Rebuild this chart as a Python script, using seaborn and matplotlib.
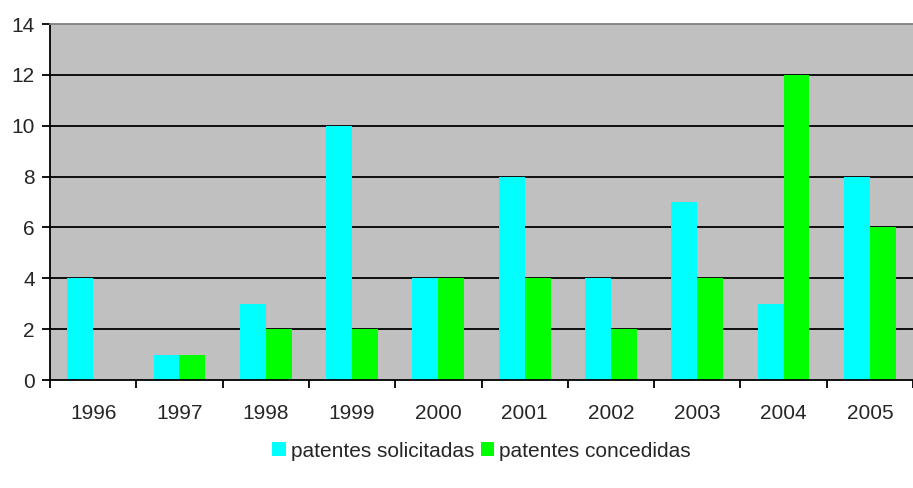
"""
Patentes solicitadas vs concedidas, 1996-2005
"""

import pandas as pd
import matplotlib
matplotlib.use("Agg")
import matplotlib.pyplot as plt
import seaborn as sns
from matplotlib.ticker import FixedLocator

years = ['1996', '1997', '1998', '1999', '2000', '2001', '2002', '2003', '2004', '2005']
solicitadas = [4, 1, 3, 10, 4, 8, 4, 7, 3, 8]
concedidas = [0, 1, 2, 2, 4, 4, 2, 4, 12, 6]
series_names = ['patentes solicitadas', 'patentes concedidas']
colors = ['#00FFFF', '#00FF00']

df = pd.DataFrame({
    'year': years * 2,
    'value': solicitadas + concedidas,
    'serie': [series_names[0]] * len(years) + [series_names[1]] * len(years),
})

sns.set_style('white')
plt.rcParams['font.family'] = ['Liberation Sans', 'DejaVu Sans']

fig = plt.figure(figsize=(9.13, 4.88), dpi=100)
ax = fig.add_axes([50 / 913, 108 / 488, 863 / 913, 356 / 488])
ax.set_facecolor('#C0C0C0')

sns.barplot(
    data=df, x='year', y='value', hue='serie',
    order=years, hue_order=series_names,
    palette=colors, width=0.6, saturation=1,
    linewidth=0, ax=ax,
)

ax.set_xlim(-0.5, len(years) - 0.5)
ax.set_ylim(0, 14)
ax.set_yticks(range(0, 15, 2))
ax.set_xlabel('')
ax.set_ylabel('')

# gridlines (black), drawn behind bars
for y in range(2, 14, 2):
    ax.axhline(y, color='black', linewidth=1.3, zorder=0.5)
ax.set_axisbelow(True)

ax.spines['right'].set_visible(False)
ax.spines['top'].set_color('#808080')
ax.spines['top'].set_linewidth(1.3)
for side in ['left', 'bottom']:
    ax.spines[side].set_color('black')
    ax.spines[side].set_linewidth(1.3)

# x ticks between categories, labels at centres
ax.xaxis.set_minor_locator(FixedLocator([i - 0.5 for i in range(len(years) + 1)]))
ax.tick_params(axis='x', which='major', length=0, pad=17, labelsize=15)
ax.tick_params(axis='x', which='minor', direction='out', length=6, width=1.3, color='black', bottom=True)
ax.tick_params(axis='y', direction='out', length=6, width=1.3, color='black', left=True, labelsize=15, pad=5)

handles, labels = ax.get_legend_handles_labels()
ax.legend(
    handles, labels, loc='center', bbox_to_anchor=(0.5, -0.2),
    ncol=2, frameon=False, fontsize=15,
    handlelength=0.65, handleheight=0.65, handletextpad=0.25, columnspacing=0.3,
)

fig.savefig('out.png', dpi=100)
